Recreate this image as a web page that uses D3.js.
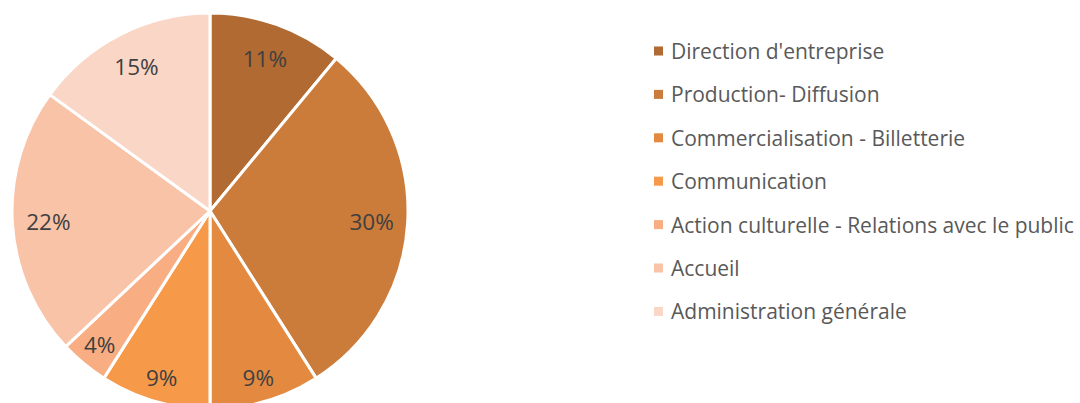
<!DOCTYPE html>
<html>
<head>
<meta charset="utf-8">
<script src="https://cdn.jsdelivr.net/npm/d3@7"></script>
<style>
  html, body { margin: 0; padding: 0; background: #fff; }
  svg { display: block; }
</style>
</head>
<body>
<svg id="chart" width="1080" height="403"></svg>
<script>
// Répartition par métier
const categories = [
  "Direction d'entreprise",
  "Production- Diffusion",
  "Commercialisation - Billetterie",
  "Communication",
  "Action culturelle - Relations avec le public",
  "Accueil",
  "Administration générale"
];
const values = [11, 30, 9, 9, 4, 22, 15];
const colors = ["#b06a32", "#cb7b3a", "#e38a40", "#f69a49", "#f8ae82", "#f9c3a8", "#fad6c6"];

const W = 1080, H = 403;
const cx = 210, cy = 211, radius = 198;

const svg = d3.select("#chart");
const fontFamily = "'Open Sans', 'Noto Sans', sans-serif";

const pie = d3.pie().sort(null).value(d => d);
const arcs = pie(values);

const arc = d3.arc().innerRadius(0).outerRadius(radius);

// narrow slices get their label pushed further out so it fits
const labelPos = d => {
  const r = (d.endAngle - d.startAngle) < 0.6 ? 173 : 162;
  return d3.arc().innerRadius(r).outerRadius(r).centroid(d);
};

const color = d3.scaleOrdinal().domain(categories).range(colors);

const g = svg.append("g").attr("transform", `translate(${cx},${cy})`);

g.selectAll("path.slice")
  .data(arcs)
  .join("path")
  .attr("class", "slice")
  .attr("d", arc)
  .attr("fill", (d, i) => color(categories[i]))
  .attr("stroke", "#fff")
  .attr("stroke-width", 3)
  .attr("stroke-linejoin", "round");

g.selectAll("text.pct")
  .data(arcs)
  .join("text")
  .attr("class", "pct")
  .attr("transform", d => `translate(${labelPos(d)})`)
  .attr("text-anchor", "middle")
  .attr("dominant-baseline", "central")
  .attr("font-family", fontFamily)
  .attr("font-size", 22.5)
  .attr("fill", "#404040")
  .text(d => d.value + "%");

// Légende
const legendX = 654, legendY0 = 51, legendStep = 43.4;
const legend = svg.append("g");
const rows = legend.selectAll("g.row")
  .data(categories)
  .join("g")
  .attr("class", "row")
  .attr("transform", (d, i) => `translate(${legendX},${legendY0 + i * legendStep})`);

rows.append("rect")
  .attr("x", 0).attr("y", -4.5)
  .attr("width", 9).attr("height", 9)
  .attr("fill", d => color(d));

rows.append("text")
  .attr("x", 17)
  .attr("dominant-baseline", "central")
  .attr("font-family", fontFamily)
  .attr("font-size", 21)
  .attr("fill", "#595959")
  .text(d => d);
</script>
</body>
</html>
